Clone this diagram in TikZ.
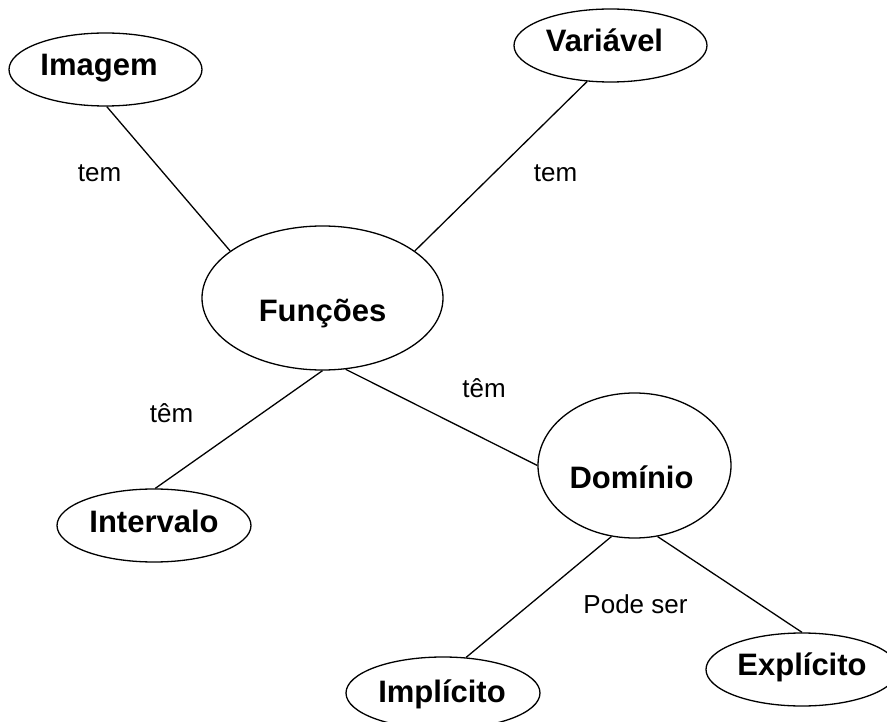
\documentclass[tikz,border=0pt]{standalone}
\usepackage{fontspec}
\setmainfont{Liberation Sans}
\usetikzlibrary{shapes.geometric}
\tikzset{
  bubble/.style={draw, ellipse, line width=1.3pt, inner sep=0pt},
  ntext/.style={anchor=base, inner sep=0pt, font=\fontsize{31}{36}\selectfont\bfseries},
  ltext/.style={anchor=base, inner sep=0pt, font=\fontsize{26}{30}\selectfont},
  link/.style={line width=1.3pt}
}
\begin{document}
\begin{tikzpicture}[x=1pt,y=-1pt]
\useasboundingbox (0,0) rectangle (887,722);
\clip (0,0) rectangle (887,722);
% ellipses
\node[bubble, minimum width=193pt, minimum height=73pt] (ima) at (105.5,69.5) {};
\node[bubble, minimum width=193pt, minimum height=73pt] (var) at (610.5,45.5) {};
\node[bubble, minimum width=241pt, minimum height=144pt] (fun) at (322.5,298) {};
\node[bubble, minimum width=193pt, minimum height=145pt] (dom) at (634.5,465.5) {};
\node[bubble, minimum width=194pt, minimum height=73pt] (int) at (154,525.5) {};
\node[bubble, minimum width=194pt, minimum height=72pt] (imp) at (443,693) {};
\node[bubble, minimum width=192pt, minimum height=73pt] (exp) at (802,669.5) {};
% node texts
\node[ntext] (ima-t) at (99,76) {Imagem};
\node[ntext] (var-t) at (604.5,52) {Variável};
\node[ntext] (fun-t) at (322.5,322) {Funções};
\node[ntext] (dom-t) at (631.5,488) {Domínio};
\node[ntext] (int-t) at (154,532) {Intervalo};
\node[ntext] (imp-t) at (442,702) {Implícito};
\node[ntext] (exp-t) at (802,675) {Explícito};
% connectors
\draw[link] (ima.272) -- (fun.153);
\draw[link] (var.237) -- (fun.27);
\draw[link] (fun.270) -- (int.88);
\draw[link] (fun.288) -- (dom.180);
\draw[link] (dom.252) -- (imp.57);
\draw[link] (dom.288) -- (exp.90);
% connector labels
\node[ltext] (l1) at (99.5,182) {tem};
\node[ltext] (l2) at (555.5,182) {tem};
\node[ltext] (l3) at (171.5,422) {têm};
\node[ltext] (l4) at (484,397) {têm};
\node[ltext] (l5) at (635.5,613) {Pode ser};
\end{tikzpicture}
\end{document}
